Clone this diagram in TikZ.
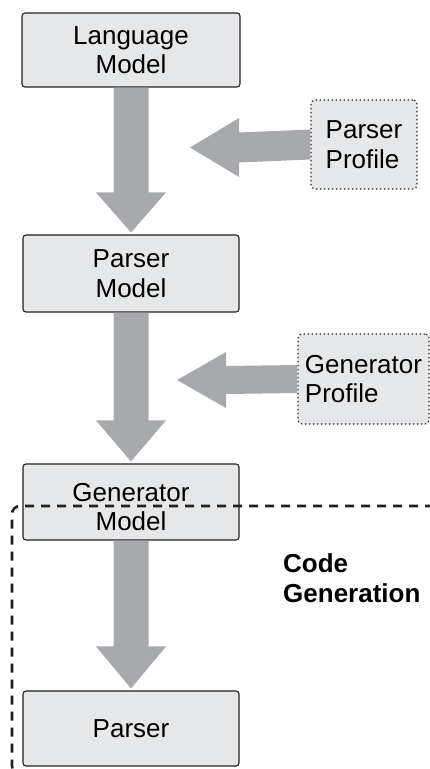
\documentclass[tikz,border=0pt]{standalone}
\usepackage{fontspec}
\setmainfont{Liberation Sans}
\usetikzlibrary{calc}
\definecolor{boxfill}{HTML}{E6E7E8}
\definecolor{arrowfill}{HTML}{A7A9AC}
\definecolor{ink}{HTML}{231F20}
\tikzset{
  modelbox/.style={draw=ink, line width=1.1pt, fill=boxfill, rounded corners=3pt, align=center, inner sep=0pt, font=\fontsize{26}{29.5}\selectfont},
  profilebox/.style={draw=ink, line width=1.1pt, dash pattern=on 1.5pt off 2.5pt, fill=boxfill, rounded corners=4pt, align=left, inner sep=0pt, font=\fontsize{26}{29.5}\selectfont},
  blockarrow/.style={fill=arrowfill, draw=none},
  regionline/.style={draw=ink, line width=2.6pt, dash pattern=on 9pt off 7pt, rounded corners=8pt},
  regionlabel/.style={font=\bfseries\fontsize{26}{30}\selectfont, align=left, anchor=north west, inner sep=0pt}
}
\begin{document}
\begin{tikzpicture}[x=1pt, y=-1pt]
\useasboundingbox (0,0) rectangle (430,769);
\clip (0,0) rectangle (430,769);
% boxes
\node[modelbox, minimum width=218pt, minimum height=74pt] (lm) at (131,50) {Language\\Model};
\node[modelbox, minimum width=216pt, minimum height=77pt] (pm) at (131,273.5) {Parser\\Model};
\node[modelbox, minimum width=216pt, minimum height=76pt] (gm) at (131,502) {\rule{0pt}{28pt}Generator\\Model};
\node[modelbox, minimum width=216pt, minimum height=75pt] (ps) at (131,728.5) {Parser};
\node[profilebox, minimum width=106pt, minimum height=89pt] (pp) at (364,144.5) {Parser\\Profile};
\node[profilebox, minimum width=131pt, minimum height=90pt] (gp) at (363.5,379) {Generator\\Profile};
% vertical block arrows
\foreach \a/\b/\h in {lm/pm/42, pm/gm/43, gm/ps/44}{
  \fill[blockarrow] ($(\a.south)+(-17.5,0)$) -- ($(\a.south)+(17.5,0)$)
    -- ($(\b.north)+(17.5,-\h)$) -- ($(\b.north)+(35,-\h)$) -- ($(\b.north)+(0,-2)$)
    -- ($(\b.north)+(-35,-\h)$) -- ($(\b.north)+(-17.5,-\h)$) -- cycle;
}
% horizontal block arrows
\coordinate (t1) at (190,147.5);
\coordinate (t2) at (177,380);
\fill[blockarrow] ($(pp.west)+(0,-15)$) -- ($(pp.west)+(0,15)$) -- ($(t1)+(49,15)$) -- ($(t1)+(49,29.5)$)
  -- (t1) -- ($(t1)+(49,-29.5)$) -- ($(t1)+(49,-15)$) -- cycle;
\fill[blockarrow] ($(gp.west)+(0,-14)$) -- ($(gp.west)+(0,14)$) -- ($(t2)+(49,14)$) -- ($(t2)+(49,28)$)
  -- (t2) -- ($(t2)+(49,-28)$) -- ($(t2)+(49,-14)$) -- cycle;
% code generation region
\draw[regionline] (450,506) -- (12,506) -- (12,774) -- (450,774);
\node[regionlabel] (cg) at (283,553) {Code\\Generation};
\end{tikzpicture}
\end{document}
